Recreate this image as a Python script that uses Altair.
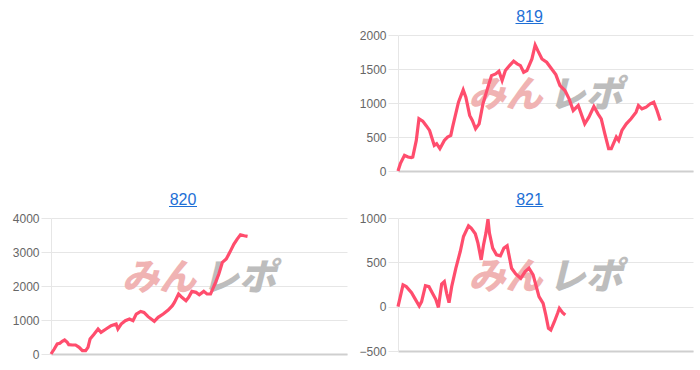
import altair as alt
import pandas as pd

TITLES = ["819", "820", "821"]
WATERMARK = ["みん", "レポ"]

x819 = [0, 0.8, 2.2, 3.4, 4.5, 5.0, 6.2, 7.1, 8.4, 9.5, 10.7, 12.3, 13.1, 14.2, 15.7, 16.8, 17.9, 18.5, 20.5, 22.1,
        23.0, 24.3, 25.2, 26.3, 27.5, 28.8, 30.3, 31.7, 33.1, 34.2, 35.3, 36.4, 37.8, 39.2, 40.4, 41.5, 42.6, 43.7, 45.4, 46.5,
        47.4, 48.8, 50.4, 52.1, 53.5, 54.9, 56.6, 58.0, 59.4, 61.1, 63.3, 64.7, 66.4, 67.8, 68.9, 70.1, 71.4, 72.3, 74.0, 74.8,
        75.9, 77.4, 79.0, 80.7, 81.5, 82.7, 84.1, 85.5, 86.7, 87.8, 88.9]
y819 = [0, 108, 230, 205, 196, 205, 450, 768, 733, 670, 597, 377, 401, 328, 450, 499, 523, 645, 1012, 1193,
        1085, 817, 743, 621, 694, 988, 1208, 1403, 1428, 1467, 1330, 1477, 1550, 1614, 1575, 1550, 1452, 1477, 1648, 1853,
        1770, 1648, 1599, 1501, 1418, 1257, 1183, 1061, 890, 963, 694, 792, 949, 841, 768, 548, 328, 328, 499, 450,
        597, 694, 768, 866, 963, 914, 939, 988, 1012, 890, 743]

x820 = [0, 1.1, 2.1, 3.0, 3.8, 4.6, 5.5, 6.0, 7.2, 8.3, 9.5, 10.6, 11.7, 12.5, 13.2, 14.6, 15.9, 16.9, 18.6, 20.3,
        22.0, 22.6, 23.7, 25.1, 26.5, 27.7, 28.8, 30.3, 31.4, 32.8, 34.9, 36.2, 37.9, 39.6, 41.0, 41.7, 43.1, 44.2, 45.6, 46.5,
        47.6, 49.0, 50.1, 51.6, 52.7, 53.9, 55.6, 56.7, 57.9, 59.2, 60.4, 61.8, 62.9, 64.0, 65.3, 66.4]
y820 = [0, 147, 294, 314, 372, 412, 343, 274, 265, 265, 196, 98, 98, 196, 441, 588, 735, 637, 735, 833,
        882, 735, 882, 980, 1029, 980, 1176, 1254, 1225, 1098, 960, 1078, 1176, 1294, 1421, 1519, 1764, 1666, 1568, 1666,
        1842, 1813, 1744, 1842, 1764, 1764, 2107, 2352, 2695, 2793, 2989, 3234, 3381, 3508, 3479, 3459]

x821 = [0, 1.7, 2.8, 4.6, 5.7, 7.2, 8.0, 9.3, 10.5, 11.6, 12.8, 13.7, 14.8, 15.7, 16.5, 17.3, 18.2, 19.6, 21.1, 22.2,
        23.9, 24.8, 26.2, 27.1, 28.2, 29.0, 29.8, 30.5, 31.0, 32.1, 33.4, 34.7, 35.9, 37.0, 38.5, 39.9, 41.6, 43.1, 44.4, 45.8,
        47.8, 49.2, 50.1, 51.0, 51.8, 53.0, 54.1, 54.7, 55.8, 56.7]
y821 = [0, 245, 226, 158, 94, 8, 57, 237, 226, 158, 83, -8, 256, 283, 151, 45, 226, 433, 622, 791,
        912, 886, 822, 716, 528, 697, 829, 987, 829, 660, 584, 573, 660, 686, 433, 369, 320, 396, 433, 358,
        113, 38, -94, -245, -264, -170, -75, -19, -68, -94]

X_DOMAIN = [0, 100]
LINE = "#ff4d6d"
BLUE = "#1e6fd6"
GRID = "#e6e6e6"
FONT = "Liberation Sans"


def panel(title, xs, ys, ydom, yticks, w, h):
    df = pd.DataFrame({"game": xs, "diff": ys})
    line = alt.Chart(df).mark_line(color=LINE, strokeWidth=3.2).encode(
        x=alt.X("game:Q", scale=alt.Scale(domain=X_DOMAIN, nice=False, zero=False),
                axis=alt.Axis(labels=False, ticks=False, grid=False, title=None,
                              domainColor="#cfcfcf", domainWidth=2)),
        y=alt.Y("diff:Q", scale=alt.Scale(domain=ydom, nice=False, zero=False),
                axis=alt.Axis(values=yticks, title=None, grid=True, gridColor=GRID,
                              domainColor=GRID, tickColor=GRID, tickSize=10, labelPadding=2,
                              labelColor="#666666", labelFontSize=12, labelFont=FONT, format="d")),
    )
    wm1 = alt.Chart(pd.DataFrame({"t": [WATERMARK[0]]})).mark_text(
        font="Noto Sans CJK JP", fontSize=37, fontWeight=900, fontStyle="italic",
        color="#f0b3b3", align="center", baseline="middle"
    ).encode(text="t:N", x=alt.value(w / 2 - 40), y=alt.value(h / 2 - 7))
    wm2 = alt.Chart(pd.DataFrame({"t": [WATERMARK[1]]})).mark_text(
        font="Noto Sans CJK JP", fontSize=37, fontWeight=900, fontStyle="italic",
        color="#bdbdbd", align="center", baseline="middle"
    ).encode(text="t:N", x=alt.value(w / 2 + 40), y=alt.value(h / 2 - 7))
    ttl = alt.Chart(pd.DataFrame({"t": [title]})).mark_text(
        font=FONT, fontSize=16, color=BLUE, align="center", baseline="alphabetic"
    ).encode(text="t:N", x=alt.value(w / 2 - 16), y=alt.value(-13.5))
    ul = alt.Chart(pd.DataFrame({"t": [title]})).mark_rule(color=BLUE, strokeWidth=1).encode(
        x=alt.value(w / 2 - 30), x2=alt.value(w / 2 - 2), y=alt.value(-11.5))
    return alt.layer(wm1, wm2, line, ttl, ul).properties(width=w, height=h)


empty = alt.Chart(pd.DataFrame({"v": [0]})).mark_point(opacity=0).encode(
    x=alt.X("v:Q", axis=None), y=alt.Y("v:Q", axis=None)
).properties(width=1, height=136)

p819 = panel(TITLES[0], x819, y819, [0, 2000], [0, 500, 1000, 1500, 2000], 295, 136)
p820 = panel(TITLES[1], x820, y820, [0, 4000], [0, 1000, 2000, 3000, 4000], 296, 136)
p821 = panel(TITLES[2], x821, y821, [-500, 1000], [-500, 0, 500, 1000], 295, 133)

chart = alt.concat(empty, p819, p820, p821, columns=2, spacing={"column": 11, "row": 13}).properties(
    padding={"left": 12, "top": 8, "right": 3, "bottom": 3},
    background="white",
).configure_view(strokeWidth=0)

chart.save("out.html", embed_options={"renderer": "svg", "actions": False})
